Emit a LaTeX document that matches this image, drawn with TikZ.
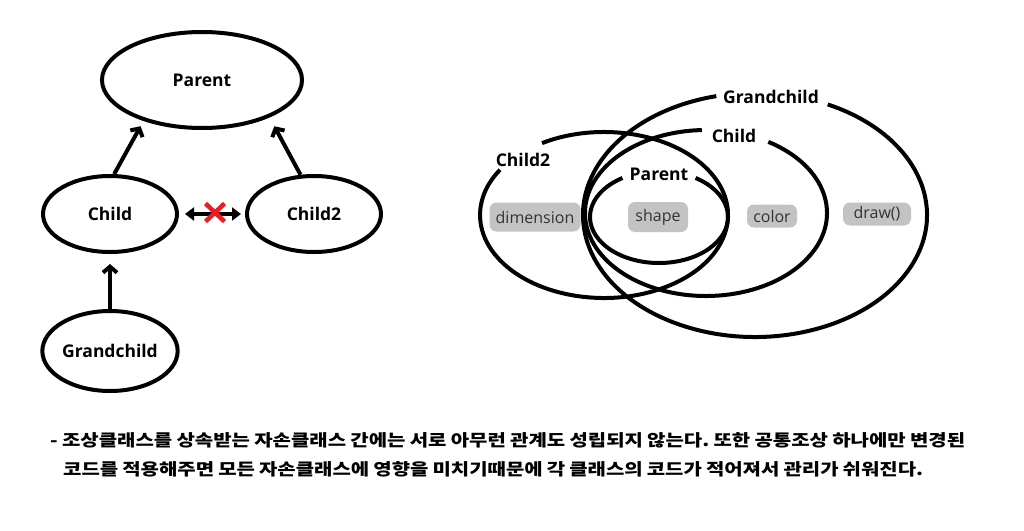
\documentclass[tikz,border=0pt]{standalone}
\usepackage{fontspec}
\setmainfont{Open Sans}
\newfontfamily\kr[FakeStretch=1.21]{Noto Sans CJK KR}
\usetikzlibrary{arrows.meta,calc,shapes.geometric}
\definecolor{boxgray}{HTML}{C3C3C3}
\definecolor{txtgray}{HTML}{333333}
\definecolor{xred}{HTML}{EC1C24}
\frenchspacing
\begin{document}
\begin{tikzpicture}[x=1pt,y=-1pt,
  oval/.style={draw,line width=4pt,ellipse,inner sep=0pt,font=\fontsize{17.5}{20}\selectfont\bfseries},
  arr/.style={line width=4pt,-{Straight Barb[length=6pt,width=14pt]}},
  darr/.style={line width=4pt,{Triangle[length=9pt,width=13pt]}-{Triangle[length=9pt,width=13pt]}},
  ring/.style={line width=4pt},
  lbl/.style={font=\fontsize{17.5}{20}\selectfont\bfseries,inner sep=0pt},
  chip/.style={fill=boxgray,rounded corners=7pt,inner sep=0pt,text=txtgray,font=\fontsize{16}{18}\selectfont},
  krline/.style={anchor=west,inner sep=0pt,font=\kr\fontsize{16.5}{19}\selectfont\bfseries}
]
\useasboundingbox (0,0) rectangle (1024,530);
% ---------- left diagram ----------
\node[oval,minimum width=200pt,minimum height=96pt] (parent) at (202,80) {Parent};
\node[oval,minimum width=134pt,minimum height=76pt] (child) at (110,214) {Child};
\node[oval,minimum width=134pt,minimum height=76pt] (child2) at (314,214) {Child2};
\node[oval,minimum width=134pt,minimum height=80pt] (gchild) at (110,351) {Grandchild};
\draw[arr,shorten >=6pt] (child.84) -- (parent.215);
\draw[arr,shorten >=10pt] (child2.109) -- (parent.331);
\draw[arr,shorten >=10pt] (gchild.north) -- (child.south);
\draw[darr,shorten <=6pt,shorten >=4pt] (child.east) -- (child2.west);
\coordinate (xc) at (215,212.5);
\draw[xred,line width=4.5pt] ($(xc)+(-9.5,-9)$) -- ($(xc)+(9.5,9)$);
\draw[xred,line width=4.5pt] ($(xc)+(9.5,-9)$) -- ($(xc)+(-9.5,9)$);
% ---------- right diagram (nested sets) ----------
% Child2
\draw[ring] ($(604,215)+(240:124 and 83)$) arc[start angle=240,end angle=573,x radius=124,y radius=83];
% Parent
\draw[ring] ($(659,217)+(302:69 and 46)$) arc[start angle=302,end angle=598,x radius=69,y radius=46];
% Child
\draw[ring] ($(706,213)+(301:121 and 83)$) arc[start angle=301,end angle=628,x radius=121,y radius=83];
% Grandchild
\draw[ring] ($(755,215)+(295:172 and 122)$) arc[start angle=295,end angle=617,x radius=172,y radius=122];
\node[lbl] (lc2) at (523,160) {Child2};
\node[lbl] (lp) at (659,174) {Parent};
\node[lbl] (lc) at (734,136) {Child};
\node[lbl] (lg) at (771,97) {Grandchild};
\node[chip,minimum width=91pt,minimum height=29pt] (dim) at (535,217) {dimension};
\node[chip,minimum width=60pt,minimum height=30pt] (shape) at (658,217) {shape};
\node[chip,minimum width=50pt,minimum height=23pt] (color) at (772,216) {color};
\node[chip,minimum width=68pt,minimum height=23pt] (draw) at (877,214) {draw()};
% ---------- caption ----------
\node[krline] (t1) at (50,440) {\makebox[915pt][s]{- 조상클래스를 상속받는 자손클래스 간에는 서로 아무런 관계도 성립되지 않는다. 또한 공통조상 하나에만 변경된}};
\node[krline] (t2) at (63,469) {\makebox[860pt][s]{코드를 적용해주면 모든 자손클래스에 영향을 미치기때문에 각 클래스의 코드가 적어져서 관리가 쉬워진다.}};
\end{tikzpicture}
\end{document}
